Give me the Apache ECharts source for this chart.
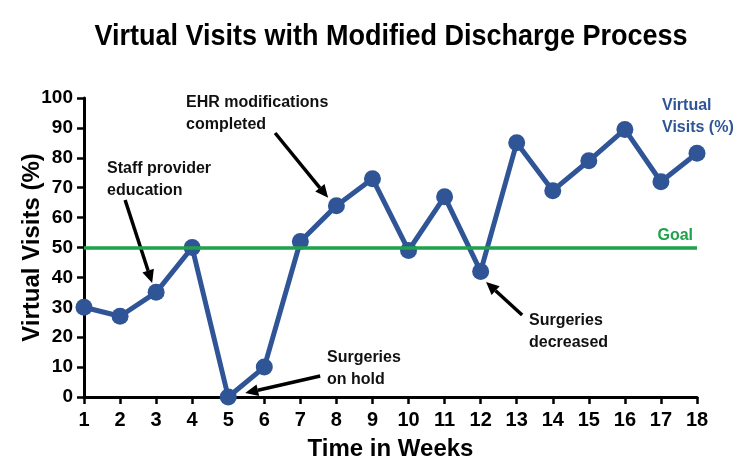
<!DOCTYPE html>
<html>
<head>
<meta charset="utf-8">
<title>Virtual Visits with Modified Discharge Process</title>
<script src="https://cdn.jsdelivr.net/npm/echarts@6/dist/echarts.min.js"></script>
<style>
    html, body { margin: 0; padding: 0; background: #fff; }
    #main { width: 750px; height: 473px; }
</style>
</head>
<body>
<div id="main"></div>
<script>
// data
const weeks = [1, 2, 3, 4, 5, 6, 7, 8, 9, 10, 11, 12, 13, 14, 15, 16, 17, 18]
const virtualVisits = [30, 27, 35, 50, 0, 10, 52, 64, 73, 49, 67, 42, 85, 69, 79, 89.5, 72, 81.5]
const goalValue = 50
const yTicks = [0, 10, 20, 30, 40, 50, 60, 70, 80, 90, 100]

// notes on the chart, placed in data units (week, %)
const notes = [
    { text: 'Staff provider\neducation', at: [1.64, 80], from: [2.14, 65.9], to: [2.89, 38.1] },
    { text: 'EHR modifications\ncompleted', at: [3.83, 102.3], from: [6.3, 88.3], to: [7.77, 66.6] },
    { text: 'Surgeries\non hold', at: [7.74, 16.8], from: [7.55, 7.0], to: [5.47, 1.3] },
    { text: 'Surgeries\ndecreased', at: [13.34, 29.3], from: [13.15, 27.4], to: [12.15, 38.5] }
]

const blue = '#2f5597'
const green = '#1fa24a'
const font = 'Liberation Sans, Arial, sans-serif'

const chart = echarts.init(document.getElementById('main'))

const option = {
    animation: false,
    grid: { left: 84, right: 53, top: 98, bottom: 76 },
    xAxis: {
        type: 'value',
        min: weeks[0],
        max: weeks[weeks.length - 1],
        interval: 1,
        name: 'Time in Weeks',
        nameLocation: 'middle',
        nameGap: 40,
        nameTextStyle: { fontFamily: font, fontWeight: 'bold', fontSize: 24, color: '#000' },
        axisLine: { lineStyle: { color: '#000', width: 3 } },
        axisTick: { length: 7, lineStyle: { color: '#000', width: 2.5 } },
        axisLabel: { margin: 13, fontFamily: font, fontWeight: 'bold', fontSize: 20, color: '#000' },
        splitLine: { show: false }
    },
    yAxis: {
        type: 'value',
        min: yTicks[0],
        max: yTicks[yTicks.length - 1],
        interval: 10,
        name: 'Virtual Visits (%)',
        nameLocation: 'middle',
        nameGap: 40,
        nameMoveOverlap: false,
        nameTextStyle: { fontFamily: font, fontWeight: 'bold', fontSize: 24, color: '#000' },
        axisLine: { show: true, lineStyle: { color: '#000', width: 3 } },
        axisTick: { show: true, length: 7, lineStyle: { color: '#000', width: 2.5 } },
        axisLabel: { margin: 11, fontFamily: font, fontWeight: 'bold', fontSize: 19, color: '#000' },
        splitLine: { show: false }
    },
    series: [
        {
            name: 'Goal',
            type: 'line',
            data: [],
            z: 1,
            markLine: {
                silent: true,
                symbol: 'none',
                lineStyle: { color: green, width: 3.5, type: 'solid' },
                label: {
                    position: 'insideEndTop',
                    formatter: 'Goal',
                    distance: 4,
                    fontFamily: font,
                    fontWeight: 'bold',
                    fontSize: 16,
                    color: green
                },
                data: [{ yAxis: goalValue }]
            }
        },
        {
            name: 'Virtual Visits (%)',
            type: 'line',
            z: 3,
            clip: false,
            data: weeks.map((w, i) => [w, virtualVisits[i]]),
            symbol: 'circle',
            symbolSize: 17,
            itemStyle: { color: blue },
            lineStyle: { color: blue, width: 5 }
        }
    ]
}

chart.setOption(option)

// 注释文字和箭头: 数据坐标转像素
function drawNotes() {
    const px = p => chart.convertToPixel({ gridIndex: 0 }, p)
    const elements = []
    const textStyle = { fontFamily: font, fontWeight: 'bold', fontSize: 16, lineHeight: 22 }

    // 标题 (condensed look, no narrow font installed)
    elements.push({
        type: 'text',
        x: 391,
        y: 37,
        scaleX: 0.9,
        style: {
            text: 'Virtual Visits with Modified Discharge Process',
            fill: '#000',
            align: 'center',
            verticalAlign: 'middle',
            fontFamily: font,
            fontWeight: 'bold',
            fontSize: 30
        }
    })

    notes.forEach(n => {
        const at = px(n.at)
        elements.push({
            type: 'text',
            x: at[0],
            y: at[1],
            style: Object.assign({ text: n.text, fill: '#111', align: 'left', verticalAlign: 'top' }, textStyle)
        })
        const a = px(n.from)
        const b = px(n.to)
        const ang = Math.atan2(b[1] - a[1], b[0] - a[0])
        const headLen = 13
        const headW = 6
        const base = [b[0] - headLen * Math.cos(ang), b[1] - headLen * Math.sin(ang)]
        elements.push({
            type: 'line',
            shape: { x1: a[0], y1: a[1], x2: base[0], y2: base[1] },
            style: { stroke: '#000', lineWidth: 3.5 }
        })
        elements.push({
            type: 'polygon',
            shape: {
                points: [
                    b,
                    [base[0] + headW * Math.sin(ang), base[1] - headW * Math.cos(ang)],
                    [base[0] - headW * Math.sin(ang), base[1] + headW * Math.cos(ang)]
                ]
            },
            style: { fill: '#000' }
        })
    })

    // series name at top right
    const lbl = px([17.03, 101])
    elements.push({
        type: 'text',
        x: lbl[0],
        y: lbl[1],
        style: Object.assign({ text: 'Virtual\nVisits (%)', fill: blue, align: 'left', verticalAlign: 'top' }, textStyle)
    })

    chart.setOption({ graphic: { elements: elements } })
}

drawNotes()
</script>
</body>
</html>
